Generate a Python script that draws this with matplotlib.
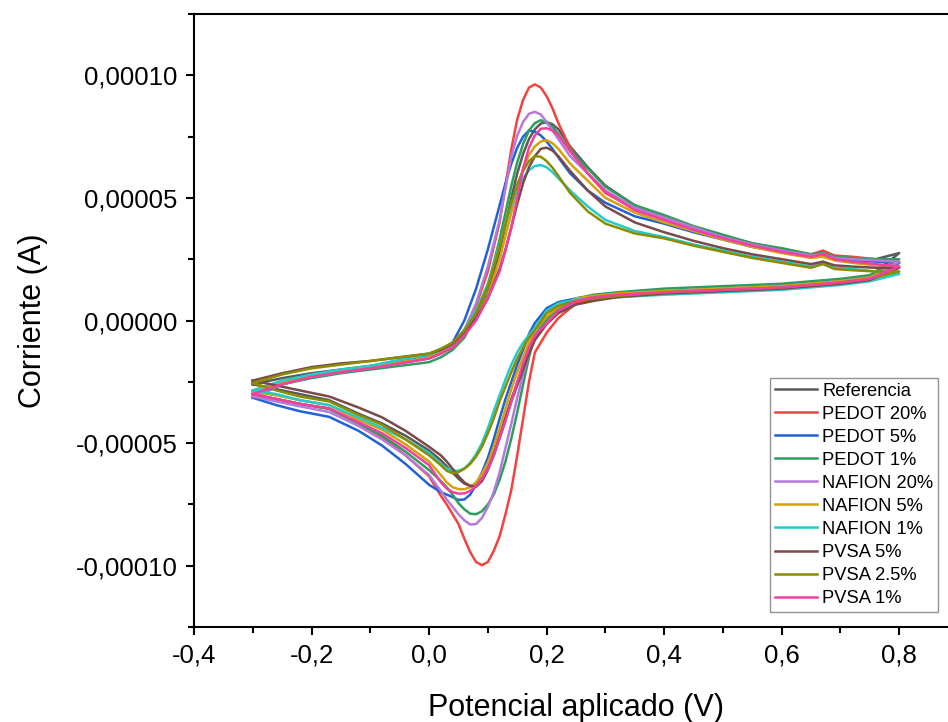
import matplotlib
matplotlib.use("Agg")
import matplotlib.pyplot as plt
from matplotlib.ticker import MultipleLocator, FixedLocator, FixedFormatter

plt.rcParams['font.family'] = ['Liberation Sans', 'DejaVu Sans']

# potencial (V): barrido directo y barrido inverso
E_fwd = [-0.30, -0.25, -0.20, -0.15, -0.10, -0.05, 0.00, 0.02, 0.04, 0.06, 0.08, 0.10,
         0.12, 0.13, 0.14, 0.15, 0.16, 0.17, 0.18, 0.19, 0.20, 0.21, 0.22, 0.24, 0.27,
         0.30, 0.35, 0.40, 0.45, 0.50, 0.55, 0.60, 0.65, 0.67, 0.69, 0.72, 0.76, 0.80]
E_rev = [0.80, 0.75, 0.70, 0.60, 0.50, 0.40, 0.32, 0.28, 0.25, 0.22, 0.20, 0.18, 0.17,
         0.16, 0.15, 0.14, 0.13, 0.12, 0.11, 0.10, 0.09, 0.08, 0.07, 0.06, 0.05, 0.04,
         0.03, 0.02, 0.00, -0.04, -0.08, -0.12, -0.17, -0.22, -0.26, -0.30]

# corriente en microamperios
ref_f = [-26, -23.5, -21.5, -20, -18.5, -16.5, -14.5, -12.5, -10, -6, 1, 11, 28, 39, 50, 60, 68,
         74, 78, 80.3, 81, 80, 78, 71, 62.5, 55, 47, 42.5, 38, 34.5, 31, 28.5, 26, 26.5, 25,
         24.5, 25, 27.5]
ref_r = [27.5, 18, 16, 14, 12.5, 11.5, 10, 8.5, 7, 3.5, -1, -7.5, -13, -19, -25.5, -32, -39.5,
         -47, -54, -60, -64.5, -67, -67.5, -66.5, -64.5, -62, -59.5, -57, -53, -47, -42, -38,
         -32.5, -30, -28, -26]
pedot20_f = [-30, -25.5, -22.5, -20.5, -19, -17, -15, -13, -10, -4, 6, 20, 40, 55, 70, 82, 90,
             95, 96.3, 95, 91.5, 86.5, 80.5, 70.5, 60, 52, 45.5, 42, 38, 34.5, 31.5, 29, 27,
             28.5, 26.5, 26, 25, 24]
pedot20_r = [24, 17.5, 16, 14, 13, 12, 10.5, 9.5, 7, 1, -5, -13, -25, -40, -55, -69, -79, -88,
             -94, -98.5, -99.8, -98.5, -94.5, -89, -83, -79, -75, -71.5, -63.5, -55, -47.5, -42,
             -36, -34, -32, -30]
pedot5_f = [-31.5, -26, -23, -21, -19, -16.5, -14, -12, -9, 0, 13, 29, 47, 56, 64, 70.5, 75, 77.5,
            77, 75.5, 73, 70, 66.5, 60, 53, 48, 42.5, 39.5, 36, 33, 30, 28, 26, 26.5, 25, 24.5,
            24, 23.5]
pedot5_r = [23.5, 17, 15.5, 13.5, 12.5, 11.5, 10.5, 10, 9, 7.5, 5, -1, -5.5, -12, -18, -25, -32,
            -40, -48.5, -56, -62, -67, -71, -73, -73.2, -72, -71, -70, -67, -58.5, -51, -45,
            -39.3, -37, -34.5, -31.5]
pedot1_f = [-30, -26, -23.5, -21.5, -20, -18.5, -17, -15, -12, -7, 2, 14, 33, 44, 55, 64.5, 72,
            77.5, 80.5, 81.7, 80.5, 79, 76, 69.5, 62, 54.5, 47, 43, 38.5, 35, 31.5, 29.5, 27,
            27.5, 26, 25.5, 25, 25]
pedot1_r = [25, 18.5, 17, 15, 14, 13, 11.5, 10.5, 9, 5, 0.5, -6, -15, -26, -37.5, -48, -57.5,
            -65, -71, -75, -77.8, -79, -78.8, -77, -74.5, -71, -68, -65.5, -61, -53.5, -47, -42,
            -36, -34, -32, -30]
nafion20_f = [-31, -26, -23, -21, -19.5, -17.5, -15.5, -13.5, -10, -4, 7, 22, 41, 54, 67, 75.5,
              81, 84.3, 85.1, 84, 81, 77.5, 74, 67, 60, 53, 46, 42, 38, 34, 31, 28.5, 26.5, 27,
              25.5, 25, 24.5, 24]
nafion20_r = [24, 17.5, 16, 14, 13, 12, 10.5, 9.5, 8, 3.5, -1, -7, -13.5, -22, -31.5, -42, -52,
              -62, -70, -76, -80.5, -83, -83.2, -81.5, -79, -76, -73, -69.5, -63, -55, -48.5,
              -43, -37.3, -35, -33, -31]
nafion5_f = [-29, -25.5, -22.5, -20.5, -19, -17, -15, -13, -11, -6, 1, 10, 25, 34.5, 44, 54, 62,
             67.5, 71, 73, 73.5, 72.3, 70, 64, 57, 50, 44, 40, 36.5, 33, 30, 27.5, 25.5, 26,
             24.5, 23.5, 22.5, 22]
nafion5_r = [22, 17.5, 16, 14, 13, 12, 11, 10, 9, 5.5, 1.5, -4, -9, -15, -21, -28, -36, -44,
             -51.5, -58, -62.5, -66, -68, -68.8, -68.8, -68, -66, -63, -57.5, -50.5, -44.5,
             -40.5, -34.5, -32.5, -30.5, -29]
nafion1_f = [-28.5, -24.5, -22, -20, -18.5, -16, -14, -12, -9.5, -4, 4, 15, 31, 39.5, 47, 53.5,
             58, 61.3, 63, 63.4, 62.5, 60.5, 58, 53, 46.5, 41, 36.5, 34, 31, 28.5, 26, 24, 22,
             23.5, 21.5, 21, 20, 19]
nafion1_r = [19, 16, 14.5, 12.5, 11.5, 10.5, 9.5, 9, 8.5, 7, 4, -3, -6, -9, -13, -18, -24,
             -30.5, -37, -44, -50, -54.5, -58, -60.3, -61.3, -61.2, -60.3, -58.5, -54, -48.5,
             -43.7, -39.5, -34.5, -32.5, -30, -28.5]
pvsa5_f = [-24.5, -21.5, -19, -17.5, -16.5, -15, -13.5, -12, -9.5, -5, 1, 9, 21, 29, 38, 47.5,
           56, 62.5, 67, 70, 70.5, 69.3, 67, 61, 53, 46.5, 40, 36, 32.5, 29.5, 27, 25, 23, 24,
           22.5, 22, 21.5, 21.5]
pvsa5_r = [21.5, 16.5, 15, 13, 12, 11, 9.5, 8, 6.5, 3, -1.5, -8, -13.5, -20, -26.5, -33, -40.5,
           -48, -55, -61, -65.5, -67.8, -67.5, -66, -63.5, -60.5, -57.5, -55, -51.5, -45, -39.5,
           -35.5, -31, -28.5, -26.5, -24.5]
pvsa25_f = [-25.5, -22, -19.5, -18, -16.5, -15, -13.5, -11.5, -9, -4, 3, 14, 30, 39.5, 48, 55.5,
            61, 65, 67, 66.8, 65, 62.3, 59, 52, 44.5, 39.5, 35.5, 33.5, 30.5, 28, 25.5, 23.5,
            21.5, 23, 21, 20.5, 20, 20]
pvsa25_r = [20, 17, 15.5, 13.5, 12.5, 11.5, 10, 9, 8, 6, 3, -4, -7, -11, -15.5, -21, -27, -33,
            -40, -46, -51.5, -55.5, -58.5, -60.5, -61.8, -62.3, -61.3, -59, -55, -48.5, -42.5,
            -38.5, -33, -31, -28.5, -25.5]
pvsa1_f = [-30, -26, -23, -21, -19.5, -17.5, -15.5, -13.5, -11, -6, 0, 9, 20, 28.5, 38, 50, 62,
           70.5, 75.5, 78.2, 78.4, 77.5, 75.5, 69, 60, 52.5, 45, 41, 37, 33.5, 30.5, 28, 26, 27,
           25, 24, 23, 22]
pvsa1_r = [22, 17, 15.5, 13.5, 12.5, 11.5, 10.5, 9.5, 8, 4, -1.3, -6, -11, -17.5, -25, -33, -41,
           -48, -55, -60.5, -64.5, -67.5, -69.5, -70.5, -70.6, -70, -68.5, -66, -59, -52, -46,
           -41.5, -35.8, -34, -32, -30]

labels = ['Referencia', 'PEDOT 20%', 'PEDOT 5%', 'PEDOT 1%', 'NAFION 20%', 'NAFION 5%',
          'NAFION 1%', 'PVSA 5%', 'PVSA 2.5%', 'PVSA 1%']
colors = ['#5a5a5a', '#f4433f', '#1f63d6', '#2e9e5e', '#b479db', '#d4a20c',
          '#22cccc', '#7a4a4a', '#8c8c00', '#f2409e']
forward = [ref_f, pedot20_f, pedot5_f, pedot1_f, nafion20_f, nafion5_f, nafion1_f,
           pvsa5_f, pvsa25_f, pvsa1_f]
reverse = [ref_r, pedot20_r, pedot5_r, pedot1_r, nafion20_r, nafion5_r, nafion1_r,
           pvsa5_r, pvsa25_r, pvsa1_r]

xticks = [-0.4, -0.2, 0.0, 0.2, 0.4, 0.6, 0.8]
xticklabels = ['-0,4', '-0,2', '0,0', '0,2', '0,4', '0,6', '0,8']
yticks = [-0.00010, -0.00005, 0.0, 0.00005, 0.00010]
yticklabels = ['-0,00010', '-0,00005', '0,00000', '0,00005', '0,00010']

fig = plt.figure(figsize=(9.48, 7.22), dpi=100)
ax = fig.add_axes([194 / 948, 95 / 722, 764 / 948, 613 / 722])

for lab, col, f, r in zip(labels, colors, forward, reverse):
    E = E_fwd + E_rev
    I = [v * 1e-6 for v in f + r]
    ax.plot(E, I, color=col, lw=1.8, label=lab, solid_joinstyle='round')

ax.set_xlim(-0.4, 0.9)
ax.set_ylim(-0.000125, 0.000125)
ax.xaxis.set_major_locator(FixedLocator(xticks))
ax.xaxis.set_major_formatter(FixedFormatter(xticklabels))
ax.yaxis.set_major_locator(FixedLocator(yticks))
ax.yaxis.set_major_formatter(FixedFormatter(yticklabels))
ax.xaxis.set_minor_locator(MultipleLocator(0.1))
ax.yaxis.set_minor_locator(MultipleLocator(0.000025))

for s in ax.spines.values():
    s.set_linewidth(1.5)
ax.tick_params(which='major', direction='out', length=6, width=1.5, labelsize=18.5, pad=6)
ax.tick_params(which='minor', direction='out', length=4, width=1.5)

ax.set_xlabel('Potencial aplicado (V)', fontsize=22, labelpad=18)
ax.set_ylabel('Corriente (A)', fontsize=22, labelpad=20)

leg = ax.legend(loc='upper left', bbox_to_anchor=(770 / 948, 1 - 378 / 722),
                bbox_transform=fig.transFigure, fontsize=13.2, frameon=True, fancybox=False,
                edgecolor='#777777', handlelength=2.3, handletextpad=0.3, labelspacing=0.33,
                borderpad=0.25, borderaxespad=0)
leg.get_frame().set_linewidth(1.0)

fig.savefig('out.png', dpi=100)
